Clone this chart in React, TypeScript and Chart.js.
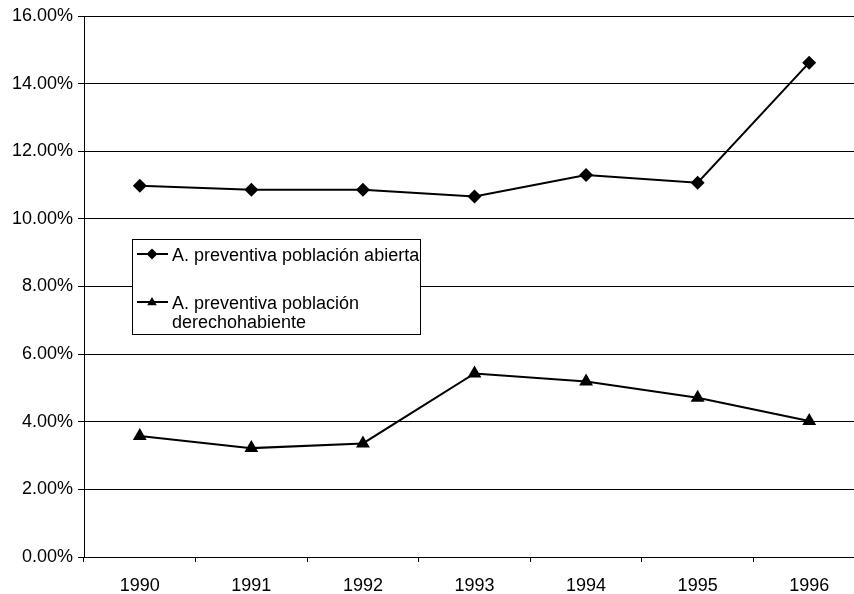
import React, { useEffect, useRef } from 'react';
import { Chart, registerables } from 'chart.js';

Chart.register(...registerables);

const categories = ['1990', '1991', '1992', '1993', '1994', '1995', '1996'];
const abiertaValues = [10.98, 10.86, 10.86, 10.66, 11.3, 11.07, 14.62];
const derechohabienteValues = [3.58, 3.22, 3.36, 5.43, 5.19, 4.71, 4.02];
const seriesNames = ['A. preventiva población abierta', 'A. preventiva población derechohabiente'];
const legendLines = [['A. preventiva población abierta'], ['A. preventiva población', 'derechohabiente']];
const yTicks = [0, 2, 4, 6, 8, 10, 12, 14, 16];

const FONT = '"Liberation Sans", Arial, sans-serif';

function drawMarker(ctx: CanvasRenderingContext2D, style: string, x: number, y: number, r: number) {
  ctx.beginPath();
  if (style === 'rectRot') {
    ctx.moveTo(x - r, y);
    ctx.lineTo(x, y - r);
    ctx.lineTo(x + r, y);
    ctx.lineTo(x, y + r);
  } else {
    const h = r * 1.5;
    const w = r * Math.sqrt(3) / 2;
    ctx.moveTo(x, y - h / 2 - 1);
    ctx.lineTo(x + w, y + h / 2 - 1);
    ctx.lineTo(x - w, y + h / 2 - 1);
  }
  ctx.closePath();
  ctx.fill();
}

const boxLegend = {
  id: 'boxLegend',
  afterDraw(chart: any) {
    const { ctx, chartArea } = chart;
    const left = chartArea.left + 48;
    const top = chartArea.top + 223;
    const width = 288;
    const height = 95;
    ctx.save();
    ctx.fillStyle = '#fff';
    ctx.fillRect(left, top, width, height);
    ctx.strokeStyle = '#000';
    ctx.lineWidth = 1;
    ctx.strokeRect(left + 0.5, top + 0.5, width, height);
    const entryY = [top + 15, top + 63];
    chart.data.datasets.forEach((ds: any, i: number) => {
      const y = entryY[i];
      ctx.strokeStyle = '#000';
      ctx.lineWidth = 2;
      ctx.beginPath();
      ctx.moveTo(left + 5, y);
      ctx.lineTo(left + 36, y);
      ctx.stroke();
      ctx.fillStyle = '#000';
      drawMarker(ctx, ds.pointStyle, left + 20, y, 5.5);
      ctx.font = `18px ${FONT}`;
      ctx.textBaseline = 'alphabetic';
      ctx.textAlign = 'left';
      legendLines[i].forEach((line, j) => {
        ctx.fillText(line, left + 40, y + 7 + j * 19);
      });
    });
    ctx.restore();
  },
};

export default function App() {
  const canvasRef = useRef<HTMLCanvasElement>(null);

  useEffect(() => {
    document.body.style.margin = '0';
    const canvas = canvasRef.current;
    if (!canvas) return;
    const chart = new Chart(canvas, {
      type: 'line',
      data: {
        labels: categories,
        datasets: [
          {
            label: seriesNames[0],
            data: abiertaValues,
            borderColor: '#000',
            backgroundColor: '#000',
            borderWidth: 2,
            pointStyle: 'rectRot',
            pointRadius: 7,
            pointBorderWidth: 0,
            tension: 0,
          },
          {
            label: seriesNames[1],
            data: derechohabienteValues,
            borderColor: '#000',
            backgroundColor: '#000',
            borderWidth: 2,
            pointStyle: 'triangle',
            pointRadius: 8,
            pointBorderWidth: 0,
            tension: 0,
          },
        ],
      },
      options: {
        responsive: false,
        animation: false,
        devicePixelRatio: 1,
        layout: { padding: { top: 16, right: 2, left: 0, bottom: 0 } },
        plugins: {
          legend: { display: false },
          tooltip: { enabled: false },
          title: { display: false },
        },
        scales: {
          x: {
            type: 'category',
            offset: true,
            grid: {
              offset: true,
              drawOnChartArea: false,
              drawTicks: true,
              tickLength: 5,
              color: '#000',
              lineWidth: 1,
            },
            border: { display: true, color: '#000', width: 1 },
            ticks: {
              color: '#000',
              font: { family: FONT, size: 18 },
              padding: 13,
              maxRotation: 0,
              autoSkip: false,
            },
            afterFit: (s: any) => {
              s.height = 37;
            },
          },
          y: {
            min: yTicks[0],
            max: yTicks[yTicks.length - 1],
            afterBuildTicks: (s: any) => {
              s.ticks = yTicks.map((v) => ({ value: v }));
            },
            grid: {
              color: '#000',
              lineWidth: 1,
              tickLength: 6,
            },
            border: { display: true, color: '#000', width: 1 },
            ticks: {
              color: '#000',
              font: { family: FONT, size: 18 },
              padding: 5,
              callback: (v: any) => Number(v).toFixed(2) + '%',
            },
            afterFit: (s: any) => {
              s.width = 84;
            },
          },
        },
      },
      plugins: [boxLegend],
    });
    return () => chart.destroy();
  }, []);

  return (
    <div style={{ position: 'fixed', left: 0, top: 0, width: 854, height: 594, overflow: 'hidden', background: '#fff' }}>
      <canvas ref={canvasRef} width={873} height={594} style={{ display: 'block', width: 873, height: 594 }} />
    </div>
  );
}
